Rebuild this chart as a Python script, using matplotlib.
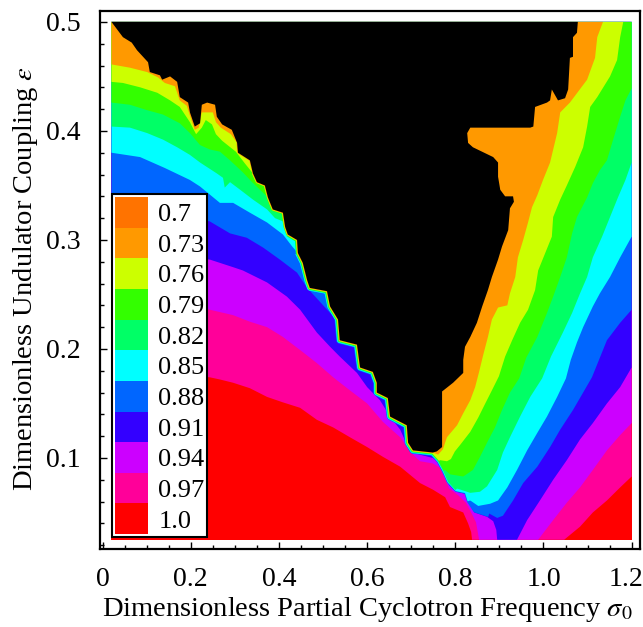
import matplotlib
matplotlib.use('Agg')
import matplotlib.pyplot as plt
from matplotlib.patches import Patch
from matplotlib.ticker import MultipleLocator
from matplotlib.transforms import ScaledTranslation

plt.rcParams['font.family'] = ['Liberation Serif', 'DejaVu Serif']
plt.rcParams['mathtext.fontset'] = 'stix'

# contour levels and their colours (legend order, top to bottom)
level_labels = ['0.7', '0.73', '0.76', '0.79', '0.82', '0.85', '0.88', '0.91', '0.94', '0.97', '1.0']
band_colors = ['#FF7300', '#FF9900', '#CCFF00', '#33FF00', '#00FF66', '#00FFFF',
               '#0066FF', '#3300FF', '#CC00FF', '#FF0099', '#FF0000']

sigma_range = [0.02, 1.2]
eps_range = [0.025, 0.5]

x_ticks = [0, 0.2, 0.4, 0.6, 0.8, 1.0, 1.2]
x_tick_labels = ['0', '0.2', '0.4', '0.6', '0.8', '1.0', '1.2']
y_ticks = [0.1, 0.2, 0.3, 0.4, 0.5]
y_tick_labels = ['0.1', '0.2', '0.3', '0.4', '0.5']

# edge of the black (no solution) region, left flank (sigma, eps)
edge_left = [(0.020, 0.500), (0.046, 0.486), (0.066, 0.481), (0.078, 0.474), (0.103, 0.463),
             (0.107, 0.454), (0.130, 0.451), (0.135, 0.447), (0.153, 0.450), (0.169, 0.445),
             (0.175, 0.431), (0.194, 0.426), (0.198, 0.417), (0.209, 0.404), (0.221, 0.407),
             (0.225, 0.424), (0.237, 0.426), (0.255, 0.424), (0.259, 0.413), (0.271, 0.406),
             (0.293, 0.401), (0.305, 0.389), (0.307, 0.380), (0.334, 0.373), (0.341, 0.361),
             (0.350, 0.353), (0.368, 0.350), (0.375, 0.339), (0.386, 0.328), (0.409, 0.325),
             (0.414, 0.312), (0.420, 0.305), (0.441, 0.300), (0.443, 0.288), (0.454, 0.279),
             (0.464, 0.263), (0.470, 0.256), (0.509, 0.253), (0.516, 0.239), (0.534, 0.227),
             (0.538, 0.208), (0.577, 0.204), (0.584, 0.183), (0.613, 0.179), (0.622, 0.169),
             (0.622, 0.160), (0.647, 0.155), (0.652, 0.138), (0.690, 0.130), (0.693, 0.114),
             (0.704, 0.107), (0.749, 0.105)]
# thin strip at the bottom of the valley where the bands meet
valley_strip = [(0.756, 0.102), (0.765, 0.098), (0.777, 0.089), (0.788, 0.079), (0.804, 0.072),
                (0.827, 0.070), (0.834, 0.061), (0.847, 0.053), (0.877, 0.049)]
# black region, right flank
edge_right = [(0.758, 0.106), (0.770, 0.110), (0.770, 0.161), (0.795, 0.169), (0.818, 0.178),
              (0.818, 0.190), (0.822, 0.202), (0.834, 0.211), (0.849, 0.224), (0.861, 0.239),
              (0.874, 0.254), (0.883, 0.266), (0.897, 0.282), (0.906, 0.294), (0.920, 0.309),
              (0.924, 0.329), (0.933, 0.335), (0.931, 0.340), (0.913, 0.340), (0.902, 0.346),
              (0.897, 0.358), (0.897, 0.371), (0.886, 0.376), (0.840, 0.385), (0.829, 0.389),
              (0.827, 0.398), (0.834, 0.403), (0.970, 0.403), (0.977, 0.404), (0.981, 0.422),
              (1.008, 0.426), (1.015, 0.428), (1.019, 0.438), (1.026, 0.433), (1.033, 0.428),
              (1.049, 0.430), (1.056, 0.438), (1.060, 0.467), (1.067, 0.468), (1.067, 0.486),
              (1.076, 0.490), (1.078, 0.500)]

# band boundaries: left part up to where it reaches the black edge, right part after the valley
orange_left = [(0.020, 0.461), (0.062, 0.458), (0.101, 0.454), (0.126, 0.449), (0.141, 0.444),
               (0.164, 0.441), (0.175, 0.428), (0.191, 0.423), (0.198, 0.414), (0.209, 0.401),
               (0.218, 0.403), (0.225, 0.417), (0.237, 0.417), (0.250, 0.417), (0.257, 0.408),
               (0.268, 0.403), (0.291, 0.397), (0.305, 0.389)]
orange_right = [(0.761, 0.103), (0.772, 0.108), (0.781, 0.119), (0.804, 0.130), (0.818, 0.141),
                (0.834, 0.153), (0.845, 0.165), (0.854, 0.179), (0.863, 0.194), (0.874, 0.211),
                (0.883, 0.227), (0.897, 0.238), (0.918, 0.240), (0.924, 0.251), (0.936, 0.266),
                (0.942, 0.284), (0.954, 0.300), (0.965, 0.316), (0.974, 0.330), (0.986, 0.341),
                (0.999, 0.355), (1.015, 0.371), (1.031, 0.398), (1.038, 0.417), (1.060, 0.426),
                (1.099, 0.447), (1.117, 0.467), (1.122, 0.486), (1.135, 0.500)]

yellow_left = [(0.020, 0.445), (0.046, 0.444), (0.085, 0.440), (0.124, 0.435), (0.153, 0.428),
               (0.175, 0.422), (0.198, 0.408), (0.212, 0.397), (0.225, 0.403), (0.234, 0.410),
               (0.248, 0.406), (0.257, 0.397), (0.271, 0.391), (0.302, 0.381), (0.323, 0.370),
               (0.341, 0.361)]
yellow_right = [(0.781, 0.097), (0.790, 0.099), (0.799, 0.106), (0.811, 0.112), (0.834, 0.124),
                (0.852, 0.137), (0.868, 0.150), (0.883, 0.162), (0.899, 0.175), (0.913, 0.193),
                (0.929, 0.208), (0.947, 0.224), (0.965, 0.236), (0.981, 0.254), (0.988, 0.272),
                (1.004, 0.288), (1.019, 0.303), (1.022, 0.321), (1.038, 0.337), (1.053, 0.350),
                (1.072, 0.367), (1.090, 0.385), (1.099, 0.404), (1.106, 0.422), (1.122, 0.431),
                (1.151, 0.450), (1.167, 0.465), (1.174, 0.486), (1.181, 0.500)]

g79_left = [(0.020, 0.426), (0.062, 0.424), (0.101, 0.419), (0.137, 0.415), (0.175, 0.407),
            (0.198, 0.398), (0.221, 0.387), (0.243, 0.383), (0.266, 0.381), (0.289, 0.373),
            (0.318, 0.362), (0.339, 0.353), (0.357, 0.346), (0.375, 0.339)]
g79_right = [(0.788, 0.085), (0.818, 0.083), (0.840, 0.089), (0.856, 0.101), (0.872, 0.114),
             (0.890, 0.128), (0.906, 0.144), (0.924, 0.160), (0.945, 0.173), (0.961, 0.192),
             (0.986, 0.211), (1.008, 0.233), (1.022, 0.248), (1.038, 0.266), (1.053, 0.284),
             (1.065, 0.306), (1.076, 0.321), (1.099, 0.339), (1.112, 0.352), (1.128, 0.364),
             (1.144, 0.373), (1.158, 0.392), (1.174, 0.413), (1.186, 0.428), (1.200, 0.439)]

g82_left = [(0.020, 0.404), (0.062, 0.403), (0.101, 0.398), (0.137, 0.392), (0.169, 0.385),
            (0.198, 0.378), (0.221, 0.371), (0.259, 0.361), (0.273, 0.357), (0.277, 0.348),
            (0.289, 0.353), (0.312, 0.346), (0.341, 0.337), (0.373, 0.328), (0.391, 0.320),
            (0.409, 0.317), (0.416, 0.307), (0.420, 0.305)]
g82_right = [(0.834, 0.068), (0.856, 0.069), (0.872, 0.074), (0.895, 0.089), (0.908, 0.105),
             (0.924, 0.119), (0.947, 0.138), (0.970, 0.156), (0.997, 0.173), (1.017, 0.193),
             (1.044, 0.215), (1.065, 0.233), (1.083, 0.251), (1.099, 0.266), (1.112, 0.284),
             (1.133, 0.303), (1.151, 0.321), (1.169, 0.339), (1.186, 0.355), (1.200, 0.371)]

cyan_left = [(0.020, 0.380), (0.085, 0.376), (0.141, 0.366), (0.198, 0.355), (0.221, 0.349),
             (0.266, 0.334), (0.296, 0.334), (0.334, 0.325), (0.373, 0.316), (0.409, 0.305),
             (0.430, 0.294), (0.443, 0.288)]
cyan_right = [(0.852, 0.056), (0.879, 0.058), (0.897, 0.061), (0.918, 0.073), (0.940, 0.089),
              (0.963, 0.107), (0.986, 0.123), (1.008, 0.138), (1.031, 0.156), (1.051, 0.173),
              (1.062, 0.190), (1.076, 0.206), (1.090, 0.220), (1.112, 0.239), (1.128, 0.251),
              (1.151, 0.266), (1.174, 0.284), (1.200, 0.303)]

b88_left = [(0.020, 0.339), (0.130, 0.328), (0.243, 0.317), (0.289, 0.306), (0.327, 0.302),
            (0.364, 0.293), (0.402, 0.282), (0.441, 0.270), (0.464, 0.256), (0.489, 0.245),
            (0.516, 0.233), (0.534, 0.227)]
b88_right = [(0.895, 0.045), (0.908, 0.047), (0.931, 0.061), (0.954, 0.077), (0.986, 0.092),
             (1.015, 0.110), (1.038, 0.126), (1.067, 0.144), (1.090, 0.160), (1.110, 0.174),
             (1.126, 0.190), (1.144, 0.208), (1.174, 0.224), (1.200, 0.236)]

# lower bands: whole boundary from the left edge to the right edge
b91_edge = [(0.020, 0.295), (0.130, 0.286), (0.243, 0.282), (0.296, 0.275), (0.318, 0.272),
            (0.373, 0.261), (0.418, 0.248), (0.448, 0.236), (0.486, 0.215), (0.516, 0.202),
            (0.538, 0.193), (0.577, 0.178), (0.600, 0.165), (0.629, 0.153), (0.652, 0.138),
            (0.675, 0.126), (0.697, 0.106), (0.720, 0.103), (0.749, 0.100), (0.765, 0.095),
            (0.775, 0.086), (0.786, 0.075), (0.802, 0.069), (0.824, 0.067), (0.831, 0.059),
            (0.843, 0.050), (0.872, 0.046), (0.886, 0.042), (0.893, 0.034), (0.895, 0.025),
            (0.940, 0.025), (0.963, 0.043), (0.992, 0.061), (1.022, 0.080), (1.053, 0.098),
            (1.083, 0.117), (1.112, 0.132), (1.144, 0.150), (1.174, 0.165), (1.200, 0.183)]
purple_edge = [(0.020, 0.254), (0.130, 0.245), (0.243, 0.236), (0.296, 0.231), (0.334, 0.225),
               (0.373, 0.220), (0.409, 0.211), (0.448, 0.199), (0.486, 0.187), (0.523, 0.174),
               (0.561, 0.162), (0.600, 0.150), (0.636, 0.133), (0.675, 0.119), (0.704, 0.103),
               (0.720, 0.097), (0.749, 0.095), (0.765, 0.091), (0.775, 0.082), (0.786, 0.072),
               (0.806, 0.066), (0.824, 0.059), (0.836, 0.050), (0.847, 0.041), (0.854, 0.025),
               (0.988, 0.025), (1.022, 0.043), (1.053, 0.059), (1.083, 0.073), (1.112, 0.089),
               (1.144, 0.107), (1.174, 0.121), (1.200, 0.132)]
pink_edge = [(0.020, 0.181), (0.130, 0.178), (0.243, 0.174), (0.266, 0.172), (0.296, 0.169),
             (0.334, 0.164), (0.373, 0.156), (0.409, 0.151), (0.448, 0.146), (0.486, 0.135),
             (0.523, 0.128), (0.561, 0.119), (0.600, 0.110), (0.636, 0.101), (0.675, 0.092),
             (0.720, 0.077), (0.749, 0.071), (0.777, 0.064), (0.788, 0.055), (0.818, 0.050),
             (0.829, 0.040), (0.836, 0.032), (0.838, 0.025), (1.047, 0.025), (1.053, 0.027),
             (1.083, 0.037), (1.112, 0.050), (1.144, 0.061), (1.174, 0.073), (1.200, 0.083)]


shared = edge_left + valley_strip


def along_edge(left, depart, right):
    # boundary that runs down the black edge from where it joins it to where it leaves it
    i = shared.index(left[-1])
    j = shared.index(depart)
    return left + shared[i + 1:j + 1] + right, shared[i:j + 1]


def to_top(pts):
    top = eps_range[1]
    return [(pts[0][0], top)] + pts + [(pts[-1][0], top)]


def fill(ax, pts, color, z):
    xs, ys = zip(*pts)
    ax.fill(xs, ys, color=color, lw=0, zorder=z)


fig = plt.figure(figsize=(6.43, 6.27), dpi=100)
ax = fig.add_axes([100 / 643, 1 - 549 / 627, 540 / 643, 538 / 627])

s0, s1 = sigma_range
e0, e1 = eps_range
z = 1
fill(ax, [(s0, e0), (s1, e0), (s1, e1), (s0, e1)], band_colors[10], z)

for pts, c in [(pink_edge, band_colors[9]), (purple_edge, band_colors[8]), (b91_edge, band_colors[7])]:
    z += 1
    fill(ax, to_top(pts), c, z)

# (left part, leaving point, right part, colour, strip width in px along the black edge)
edge_bands = [
    (b88_left, valley_strip[8], b88_right, band_colors[6], 3.5),
    (cyan_left, valley_strip[6], cyan_right, band_colors[5], 2.8),
    (g82_left, valley_strip[4], g82_right, band_colors[4], 2.2),
    (g79_left, valley_strip[2], g79_right, band_colors[3], 1.6),
    (yellow_left, valley_strip[1], yellow_right, band_colors[2], 1.1),
    (orange_left, edge_left[-1], orange_right, band_colors[1], 0.6),
]
for left, depart, right, c, strip in edge_bands:
    pts, run = along_edge(left, depart, right)
    z += 1
    fill(ax, to_top(pts), c, z)
    z += 1
    xs, ys = zip(*run)
    ax.plot(xs, ys, color=c, lw=2 * strip * 0.72, solid_capstyle='butt',
            solid_joinstyle='round', zorder=z)

z += 1
fill(ax, edge_left + edge_right, 'black', z)

ax.set_xlim(-0.006, 1.219)
ax.set_ylim(0.0165, 0.510)
ax.set_xticks(x_ticks)
ax.set_xticklabels(x_tick_labels)
ax.set_yticks(y_ticks)
ax.set_yticklabels(y_tick_labels)
ax.xaxis.set_minor_locator(MultipleLocator(0.05))
ax.yaxis.set_minor_locator(MultipleLocator(0.02))
ax.tick_params(which='both', direction='in', top=False, right=False, width=1.0, labelsize=20)
ax.tick_params(which='major', length=5)
ax.tick_params(which='minor', length=3)
ax.tick_params(axis='x', pad=13)
ax.tick_params(axis='y', pad=14)
for sp in ax.spines.values():
    sp.set_linewidth(1.6)

# the last label sits a little inside the frame, as in the original
last = ax.get_xticklabels()[-1]
last.set_transform(last.get_transform() + ScaledTranslation(-0.06, 0, fig.dpi_scale_trans))

ax.set_xlabel(r'Dimensionless Partial Cyclotron Frequency $\sigma_0$', fontsize=20.5)
ax.set_ylabel(r'Dimensionless Undulator Coupling $\varepsilon$', fontsize=20.5)
ax.xaxis.set_label_coords(0.495, -0.085)
ax.yaxis.set_label_coords(-0.112, 0.503)

handles = [Patch(facecolor=c, edgecolor='none', label=l) for c, l in zip(band_colors, level_labels)]
leg = ax.legend(handles=handles, loc='lower left', bbox_to_anchor=(0.021, 0.0275),
                bbox_transform=ax.transData, borderaxespad=0, fontsize=19,
                handlelength=1.25, handleheight=1.41, handletextpad=0.4, labelspacing=0,
                borderpad=0.11, frameon=True, fancybox=False, framealpha=1, edgecolor='black')
leg.get_frame().set_linewidth(1.5)
leg.set_zorder(100)

fig.savefig('out.png', dpi=100)
